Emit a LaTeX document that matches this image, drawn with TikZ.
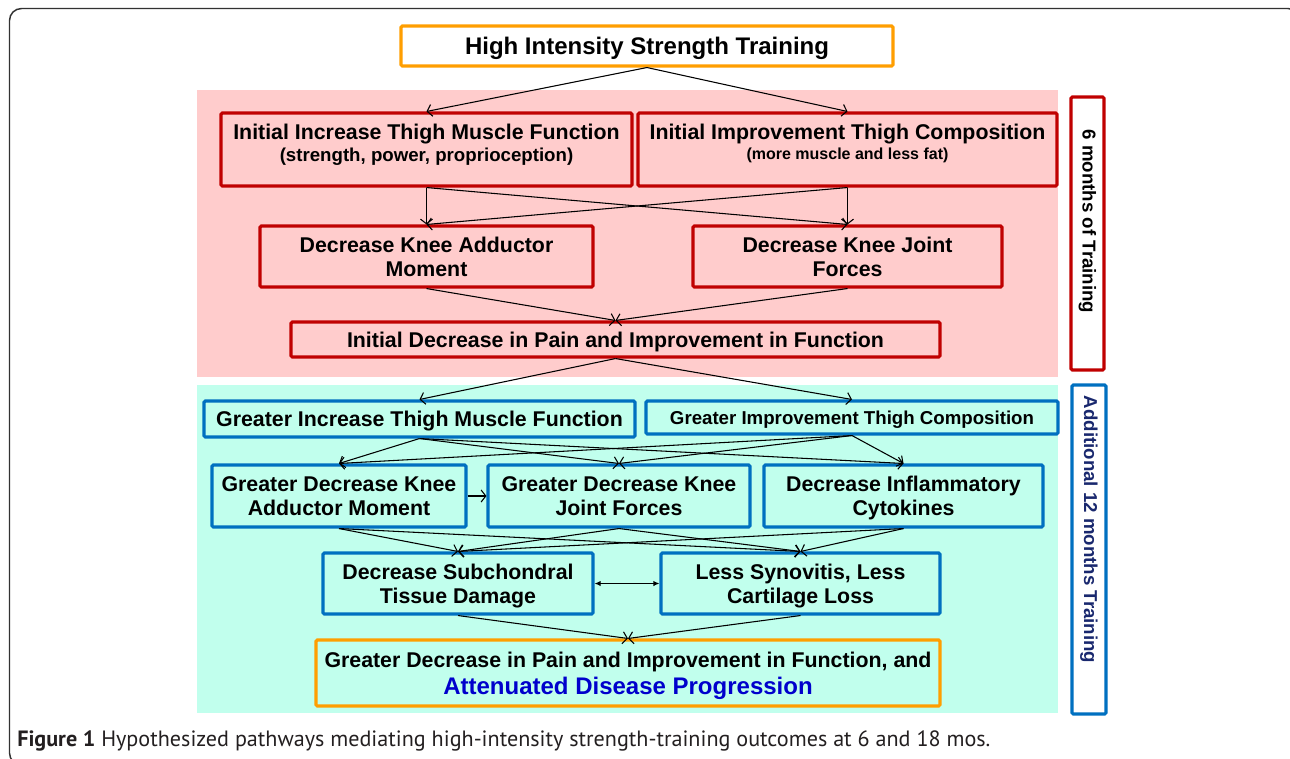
\documentclass[tikz,border=0pt]{standalone}
\usepackage{fontspec}
\setmainfont{Liberation Sans}
\newfontfamily\capfont{PT Sans}
\usetikzlibrary{arrows.meta}
\definecolor{boxred}{RGB}{192,0,0}
\definecolor{boxblue}{RGB}{0,112,192}
\definecolor{boxorange}{RGB}{255,158,0}
\definecolor{pinkbg}{RGB}{255,204,204}
\definecolor{cyanbg}{RGB}{193,255,237}
\definecolor{navytext}{RGB}{25,40,110}
\definecolor{attblue}{RGB}{0,0,204}
\definecolor{capgray}{RGB}{35,31,32}
\definecolor{framegray}{RGB}{50,50,50}
\tikzset{
  bx/.style 2 args={draw, line width=2.3pt, rectangle, rounded corners=1pt, inner sep=0pt,
    minimum width=#1*0.75pt, minimum height=#2*0.75pt, align=center, text depth=0pt,
    font=\bfseries\fontsize{16}{18}\selectfont},
  redbox/.style={draw=boxred},
  bluebox/.style={draw=boxblue},
  orangebox/.style={draw=boxorange},
  lbl/.style={inner sep=0pt, align=center},
  conn/.style={line width=0.8pt, -{Straight Barb[length=3.5pt,width=9pt]}},
  dbl/.style={line width=0.8pt, {Latex[length=4.5pt,width=4pt]}-{Latex[length=4.5pt,width=4pt]}},
}
\begin{document}
\begin{tikzpicture}[x=0.75pt,y=-0.75pt]
\useasboundingbox (0,0) rectangle (1290,758);
% outer frame
\draw[framegray, line width=1.1pt, rounded corners=9pt] (9.5,8.5) rectangle (1300,765);
% background regions
\fill[pinkbg] (197,90) rectangle (1058,377);
\fill[cyanbg] (197,385) rectangle (1058,713);

% top
\node[bx={492}{40}, orangebox, fill=white, font=\bfseries\fontsize{18}{20}\selectfont] (hist) at (647,46) {High Intensity Strength Training};

% 6 months section
\node[bx={411}{73}, redbox] (iitmf) at (426.5,149.5) {};
\node[lbl, font=\bfseries\fontsize{16}{16.5}\selectfont] (iitmft) at (426.5,145) {Initial Increase Thigh Muscle Function\\{\fontsize{14}{16}\selectfont (strength, power, proprioception)}};
\node[bx={419}{73}, redbox] (iitc) at (847.5,149.5) {};
\node[lbl, font=\bfseries\fontsize{16}{15}\selectfont] (iitct) at (847.5,143.5) {Initial Improvement Thigh Composition\\{\fontsize{12}{14}\selectfont (more muscle and less fat)}};
\node[bx={333}{61}, redbox] (dkam) at (426.5,256.5) {Decrease Knee Adductor\\Moment};
\node[bx={309}{61}, redbox] (dkjf) at (847.5,256.5) {Decrease Knee Joint\\Forces};
\node[bx={649}{35}, redbox] (idp) at (615.5,339.5) {Initial Decrease in Pain and Improvement in Function};

% additional 12 months section
\node[bx={431}{36}, bluebox] (git) at (419.5,419) {Greater Increase Thigh Muscle Function};
\node[bx={412}{33}, bluebox, font=\bfseries\fontsize{14}{16}\selectfont] (gic) at (852,417.5) {Greater Improvement Thigh Composition};
\node[bx={254}{62}, bluebox] (gdkam) at (339,496) {Greater Decrease Knee\\Adductor Moment};
\node[bx={262}{62}, bluebox] (gdkj) at (619,496) {Greater Decrease Knee\\Joint Forces};
\node[bx={279}{62}, bluebox] (dic) at (903.5,496) {Decrease Inflammatory\\Cytokines};
\node[bx={270}{61}, bluebox] (dstd) at (458,583.5) {Decrease Subchondral\\Tissue Damage};
\node[bx={279}{61}, bluebox] (lsl) at (800.5,583.5) {Less Synovitis, Less\\Cartilage Loss};
\node[bx={624}{66}, orangebox, font=\bfseries\fontsize{16}{20.25}\selectfont] (final) at (628,673) {Greater Decrease in Pain and Improvement in Function, and\\{\fontsize{18}{20}\selectfont\color{attblue}Attenuated Disease Progression}};

% side labels
\node[bx={33}{273}, redbox, fill=white] (six) at (1087.5,233.5) {};
\node[lbl, rotate=-90, font=\bfseries\fontsize{14}{16}\selectfont] (sixt) at (1087.5,221.5) {6 months of Training};
\node[bx={34}{329}, bluebox, fill=white] (addl) at (1089,549.5) {};
\node[lbl, rotate=-90, text=navytext, font=\bfseries\fontsize{14}{16}\selectfont] (addlt) at (1089,529.5) {Additional 12 months Training};

% connectors, 6 months
\draw[conn] (hist.south) -- (iitmf.north);
\draw[conn] (hist.south) -- (iitc.north);
\draw[conn] (iitmf.south) -- (dkam.north);
\draw[conn] (iitmf.south) -- (dkjf.north);
\draw[conn] (iitc.south) -- (dkam.north);
\draw[conn] (iitc.south) -- (dkjf.north);
\draw[conn] (dkam.south) -- (idp.north);
\draw[conn] (dkjf.south) -- (idp.north);
\draw[conn] (idp.south) -- (git.north);
\draw[conn] (idp.south) -- (gic.north);
% connectors, additional 12 months
\foreach \s in {git,gic}{
  \foreach \t in {gdkam,gdkj,dic}{
    \draw[conn] (\s.south) -- (\t.north);
  }
}
\draw[conn] (gdkam.east) -- (gdkj.west);
\foreach \s in {gdkam,gdkj,dic}{
  \foreach \t in {dstd,lsl}{
    \draw[conn] (\s.south) -- (\t.north);
  }
}
\draw[dbl] (dstd.east) -- (lsl.west);
\draw[conn] (dstd.south) -- (final.north);
\draw[conn] (lsl.south) -- (final.north);

% caption
\node[anchor=base west, inner sep=0pt, text=capgray, font=\capfont\fontsize{16.6}{18}\selectfont] (cap) at (17,746) {\textbf{Figure 1} Hypothesized pathways mediating high-intensity strength-training outcomes at 6 and 18 mos.};
\end{tikzpicture}
\end{document}
